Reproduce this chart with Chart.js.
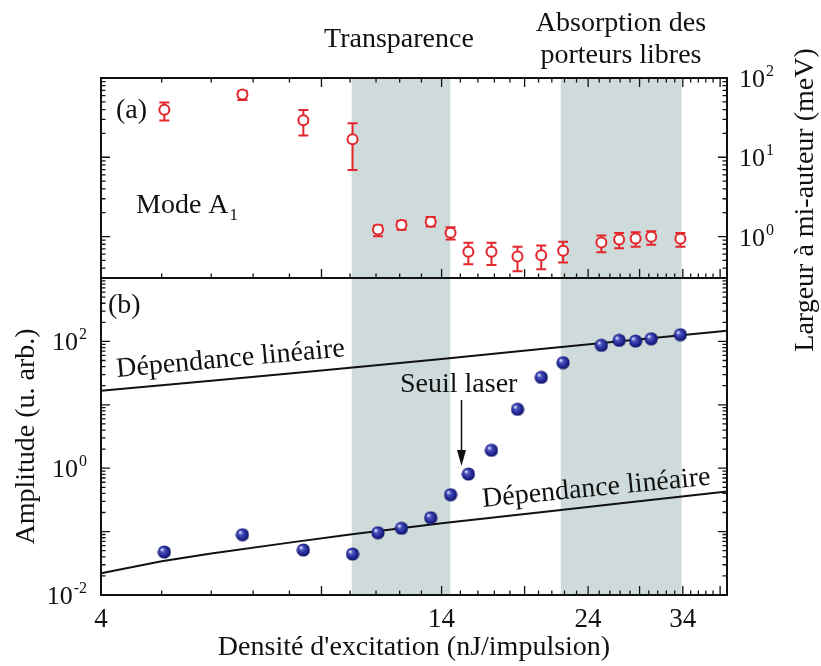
<!DOCTYPE html>
<html>
<head>
<meta charset="utf-8">
<script src="https://cdn.jsdelivr.net/npm/chart.js@4.4.1/dist/chart.umd.min.js"></script>
<style>
  html, body { margin: 0; padding: 0; background: #fff; }
  #wrap { position: relative; width: 821px; height: 666px; }
</style>
</head>
<body>
<div id="wrap"><canvas id="chart" width="821" height="666"></canvas></div>
<script>
// excitation density (nJ/impulsion), shared by both panels
const density = [5.05, 6.73, 8.42, 10.09, 11.08, 12.08, 13.45, 14.47, 15.45, 16.82, 18.51, 20.2, 21.89, 25.2, 26.9, 28.58, 30.27, 33.7];
// (a) largeur a mi-hauteur (meV) with error bar limits
const fwhm     = [39.8, 61.8, 29.3, 16.9, 1.23, 1.40, 1.54, 1.12, 0.644, 0.644, 0.562, 0.579, 0.663, 0.841, 0.917, 0.944, 0.991, 0.936];
const fwhmLow  = [29.0, 52.6, 18.8, 6.9, 1.01, 1.22, 1.34, 0.917, 0.447, 0.438, 0.365, 0.387, 0.469, 0.636, 0.714, 0.743, 0.787, 0.743];
const fwhmHigh = [49.1, 68.8, 39.5, 26.8, 1.38, 1.58, 1.76, 1.31, 0.834, 0.834, 0.743, 0.772, 0.859, 1.03, 1.11, 1.13, 1.165, 1.11];
// (b) amplitude (u. arb.)
const amplitude = [0.0477, 0.0893, 0.0513, 0.0443, 0.0961, 0.1127, 0.1656, 0.382, 0.81, 1.915, 8.49, 27.1, 46.2, 86.8, 104, 101.4, 110, 127.6];
// "Dependance lineaire" guide lines
const lineX     = [4, 5, 6, 8, 10, 14, 20, 28, 40];
const lineUpper = [16.7, 20.3, 24.0, 31.2, 38.5, 53, 75, 104, 147];
const lineLower = [0.022, 0.034, 0.045, 0.067, 0.090, 0.135, 0.20, 0.29, 0.43];
// shaded regions: transparence, absorption des porteurs libres
const bandStart = [10.06, 21.7];
const bandEnd   = [14.45, 33.85];
// axis labels
const xTickLabels = [4, 14, 24, 34];
const yTopLabels = [[100, '2'], [10, '1'], [1, '0']];
const yBotLabels = [[100, '2'], [1, '0'], [0.01, '-2']];

const FONT = '"Liberation Serif", "Times New Roman", serif';
const RED = '#e3262c';

// sphere marker for panel (b)
const sphere = document.createElement('canvas');
sphere.width = 14; sphere.height = 14;
(() => {
  const g = sphere.getContext('2d');
  const grad = g.createRadialGradient(4.5, 4.5, 0.5, 7, 7, 7);
  grad.addColorStop(0, '#e8eaff');
  grad.addColorStop(0.25, '#4a55c0');
  grad.addColorStop(0.7, '#1f2490');
  grad.addColorStop(1, '#10135a');
  g.fillStyle = grad;
  g.beginPath(); g.arc(7, 7, 6.6, 0, Math.PI * 2); g.fill();
})();

function logTicks(min, max) {
  const out = [];
  for (let e = Math.floor(Math.log10(min)); e <= Math.ceil(Math.log10(max)); e++) {
    for (let m = 1; m < 10; m++) {
      const v = m * Math.pow(10, e);
      if (v >= min * 0.999 && v <= max * 1.001) out.push({ v, major: m === 1 });
    }
  }
  return out;
}

function drawPow(ctx, exp, x, yc, align) {
  ctx.textAlign = 'left';
  ctx.textBaseline = 'alphabetic';
  ctx.font = '26px ' + FONT;
  const wb = ctx.measureText('10').width;
  ctx.font = '16px ' + FONT;
  const we = ctx.measureText(exp).width;
  const x0 = align === 'right' ? x - wb - we - 1 : x;
  ctx.font = '26px ' + FONT;
  ctx.fillText('10', x0, yc + 9);
  ctx.font = '16px ' + FONT;
  ctx.fillText(exp, x0 + wb + 1, yc - 2);
}

function rotText(ctx, text, x, y, angle) {
  ctx.save();
  ctx.translate(x, y);
  ctx.rotate(angle * Math.PI / 180);
  ctx.fillText(text, 0, 0);
  ctx.restore();
}

const figurePlugin = {
  id: 'figure',
  beforeDatasetsDraw(chart) {
    const { ctx, chartArea } = chart;
    const x = chart.scales.x, yT = chart.scales.yT;
    ctx.save();
    ctx.fillStyle = '#cfdbdb';
    bandStart.forEach((s, i) => {
      const a = x.getPixelForValue(s), b = x.getPixelForValue(bandEnd[i]);
      ctx.fillRect(a, chartArea.top, b - a, chartArea.bottom - chartArea.top);
    });
    // error bars of panel (a)
    ctx.strokeStyle = RED;
    ctx.lineWidth = 2;
    density.forEach((d, i) => {
      const px = x.getPixelForValue(d);
      const lo = yT.getPixelForValue(fwhmLow[i]), hi = yT.getPixelForValue(fwhmHigh[i]);
      ctx.beginPath();
      ctx.moveTo(px, lo); ctx.lineTo(px, hi);
      ctx.moveTo(px - 5, lo); ctx.lineTo(px + 5, lo);
      ctx.moveTo(px - 5, hi); ctx.lineTo(px + 5, hi);
      ctx.stroke();
    });
    ctx.restore();
  },
  afterDraw(chart) {
    const { ctx, chartArea } = chart;
    const x = chart.scales.x, yT = chart.scales.yT, yB = chart.scales.yB;
    const L = chartArea.left, R = chartArea.right;
    ctx.save();
    ctx.strokeStyle = '#111';
    ctx.fillStyle = '#111';

    // ticks
    ctx.lineWidth = 1.3;
    ctx.beginPath();
    for (let v = 4; v <= 40; v++) {
      const px = x.getPixelForValue(v);
      const len = (v - 4) % 5 === 0 ? 9 : 4.5;
      ctx.moveTo(px, yT.top); ctx.lineTo(px, yT.top + len);
      ctx.moveTo(px, yT.bottom); ctx.lineTo(px, yT.bottom - len);
      ctx.moveTo(px, yB.bottom); ctx.lineTo(px, yB.bottom - len);
    }
    [yT, yB].forEach(s => {
      logTicks(s.min, s.max).forEach(t => {
        const py = s.getPixelForValue(t.v);
        const len = t.major ? 9 : 4.5;
        ctx.moveTo(L, py); ctx.lineTo(L + len, py);
        ctx.moveTo(R, py); ctx.lineTo(R - len, py);
      });
    });
    ctx.stroke();

    // frames
    ctx.lineWidth = 2;
    ctx.strokeRect(L, yT.top, R - L, yT.bottom - yT.top);
    ctx.strokeRect(L, yB.top, R - L, yB.bottom - yB.top);

    // tick labels
    ctx.font = '27px ' + FONT;
    ctx.textAlign = 'center';
    ctx.textBaseline = 'alphabetic';
    xTickLabels.forEach(v => ctx.fillText(String(v), x.getPixelForValue(v), 627));
    yTopLabels.forEach(([v, e]) => drawPow(ctx, e, R + 12, yT.getPixelForValue(v), 'left'));
    yBotLabels.forEach(([v, e]) => drawPow(ctx, e, L - 14, yB.getPixelForValue(v), 'right'));

    // axis titles
    ctx.font = '28px ' + FONT;
    ctx.textAlign = 'center';
    ctx.textBaseline = 'middle';
    ctx.fillText("Densité d'excitation (nJ/impulsion)", (L + R) / 2, 648);
    rotText(ctx, 'Amplitude (u. arb.)', 27, (yB.top + yB.bottom) / 2, -90);
    rotText(ctx, 'Largeur à mi-auteur (meV)', 806, 200, -90);

    // annotations
    ctx.textBaseline = 'alphabetic';
    ctx.fillText('Transparence', 399, 47);
    ctx.fillText('Absorption des', 621, 31);
    ctx.fillText('porteurs libres', 621, 63);
    ctx.textAlign = 'left';
    ctx.fillText('(a)', 116, 118);
    ctx.fillText('(b)', 108, 313);
    ctx.fillText('Mode A', 136, 213);
    const wA = ctx.measureText('Mode A').width;
    ctx.font = '17px ' + FONT;
    ctx.fillText('1', 136 + wA + 1, 220);
    ctx.font = '28px ' + FONT;
    ctx.fillText('Seuil laser', 400, 392);
    rotText(ctx, 'Dépendance linéaire', 117, 377, -5.2);
    rotText(ctx, 'Dépendance linéaire', 483, 507, -5.6);

    // arrow to the threshold
    const ax = 461.5;
    ctx.lineWidth = 1.5;
    ctx.beginPath(); ctx.moveTo(ax, 400); ctx.lineTo(ax, 452); ctx.stroke();
    ctx.beginPath();
    ctx.moveTo(ax - 4.5, 450); ctx.lineTo(ax + 4.5, 450); ctx.lineTo(ax, 466); ctx.closePath();
    ctx.fill();
    ctx.restore();
  }
};

const hiddenAxis = {
  ticks: { display: false },
  grid: { display: false },
  border: { display: false }
};

new Chart(document.getElementById('chart'), {
  type: 'scatter',
  data: {
    datasets: [
      {
        label: 'Largeur',
        data: density.map((d, i) => ({ x: d, y: fwhm[i] })),
        yAxisID: 'yT',
        pointRadius: 5,
        pointBorderWidth: 2,
        pointBorderColor: RED,
        pointBackgroundColor: '#fff',
        showLine: false
      },
      {
        label: 'Amplitude',
        data: density.map((d, i) => ({ x: d, y: amplitude[i] })),
        yAxisID: 'yB',
        pointStyle: sphere,
        showLine: false
      },
      {
        label: 'Dépendance linéaire (haut)',
        type: 'line',
        data: lineX.map((d, i) => ({ x: d, y: lineUpper[i] })),
        yAxisID: 'yB',
        borderColor: '#111',
        borderWidth: 2,
        pointRadius: 0,
        tension: 0
      },
      {
        label: 'Dépendance linéaire (bas)',
        type: 'line',
        data: lineX.map((d, i) => ({ x: d, y: lineLower[i] })),
        yAxisID: 'yB',
        borderColor: '#111',
        borderWidth: 2,
        pointRadius: 0,
        tension: 0
      }
    ]
  },
  options: {
    responsive: false,
    animation: false,
    devicePixelRatio: 1,
    layout: { padding: { top: 78, right: 94, bottom: 0, left: 0 } },
    plugins: { legend: { display: false }, tooltip: { enabled: false } },
    scales: {
      x: {
        type: 'logarithmic', min: 4, max: 40, ...hiddenAxis,
        afterFit: s => { s.height = 71; }
      },
      // stacked panels: first declared sits at the bottom
      yB: {
        type: 'logarithmic', position: 'left', stack: 'panels', stackWeight: 317,
        min: 0.01, max: 1000, ...hiddenAxis,
        afterFit: s => { s.width = 101; }
      },
      yT: {
        type: 'logarithmic', position: 'left', stack: 'panels', stackWeight: 200,
        min: 0.307, max: 100, ...hiddenAxis,
        afterFit: s => { s.width = 101; }
      }
    }
  },
  plugins: [figurePlugin]
});
</script>
</body>
</html>
